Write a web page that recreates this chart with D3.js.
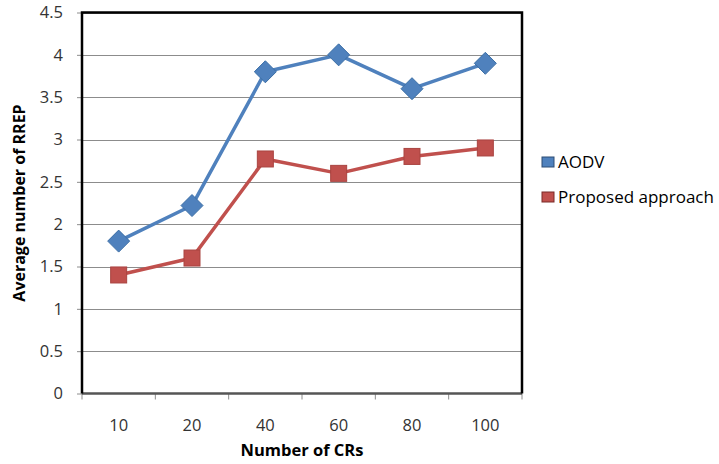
<!DOCTYPE html>
<html><head><meta charset="utf-8">
<script src="https://cdn.jsdelivr.net/npm/d3@7/dist/d3.min.js"></script>
<style>body{margin:0;background:#fff;}svg{display:block;}</style>
</head><body>
<svg id="c" width="719" height="464"></svg>
<script>
const categories = ["10","20","40","60","80","100"];
const aodv = [1.8, 2.22, 3.8, 4.0, 3.6, 3.9];
const proposed = [1.4, 1.6, 2.77, 2.6, 2.8, 2.9];
const yTicks = [0,0.5,1,1.5,2,2.5,3,3.5,4,4.5];
const seriesNames = ["AODV","Proposed approach"];

const svg = d3.select("#c");
const L=82, R=522, T=12.5, B=393.5;
const x = d3.scaleBand().domain(categories).range([L,R]);
const y = d3.scaleLinear().domain([0,4.5]).range([B,T]);
const font = "'Open Sans', sans-serif";

// gridlines
svg.append("g").selectAll("line").data(yTicks.filter(d=>d>0)).join("line")
  .attr("x1",L).attr("x2",R).attr("y1",d=>Math.round(y(d))+0.5).attr("y2",d=>Math.round(y(d))+0.5)
  .attr("stroke","#8c8c8c").attr("stroke-width",1);

// y axis
const ya = svg.append("g").attr("transform",`translate(${L},0)`)
  .call(d3.axisLeft(y).tickValues(yTicks).tickSize(5).tickPadding(14).tickFormat(d=>String(d)));
ya.select(".domain").remove();
ya.selectAll(".tick line").attr("stroke","#8c8c8c");
ya.selectAll("text").attr("font-family",font).attr("font-size",16.5).attr("fill","#333");

// x axis
const xa = svg.append("g").attr("transform",`translate(0,${B})`)
  .call(d3.axisBottom(x).tickSize(0).tickPadding(26));
xa.select(".domain").remove();
xa.selectAll("text").attr("font-family",font).attr("font-size",16.5).attr("fill","#333");
const bounds = categories.map(c=>x(c)).concat([R]);
svg.append("g").selectAll("line").data(bounds).join("line")
  .attr("x1",d=>d).attr("x2",d=>d).attr("y1",B).attr("y2",B+6)
  .attr("stroke","#8c8c8c").attr("stroke-width",1);

// frame
svg.append("line").attr("x1",L).attr("x2",R).attr("y1",B).attr("y2",B).attr("stroke","#555").attr("stroke-width",2.5);
svg.append("path").attr("d",`M${L},${B}V${T}H${R}V${B}`).attr("fill","none").attr("stroke","#000").attr("stroke-width",2.5);

const cx = c=>x(c)+x.bandwidth()/2;
const line = d3.line().x((d,i)=>cx(categories[i])).y(d=>y(d));
const colors = ["#4F81BD","#C0504D"];
const borders = ["#3b6ea5","#a94441"];

svg.append("path").datum(aodv).attr("d",line).attr("fill","none").attr("stroke",colors[0]).attr("stroke-width",3.5).attr("stroke-linejoin","round");
svg.append("path").datum(proposed).attr("d",line).attr("fill","none").attr("stroke",colors[1]).attr("stroke-width",3.5).attr("stroke-linejoin","round");

svg.append("g").selectAll("path").data(aodv).join("path")
  .attr("d",(d,i)=>{const px=cx(categories[i]),py=y(d),r=11;return `M${px},${py-r}L${px+r},${py}L${px},${py+r}L${px-r},${py}Z`;})
  .attr("fill",colors[0]).attr("stroke",borders[0]).attr("stroke-width",1);
svg.append("g").selectAll("rect").data(proposed).join("rect")
  .attr("x",(d,i)=>cx(categories[i])-8).attr("y",d=>y(d)-8).attr("width",16).attr("height",16)
  .attr("fill",colors[1]).attr("stroke",borders[1]).attr("stroke-width",1);

// axis titles
svg.append("text").attr("x",302).attr("y",456).attr("text-anchor","middle")
  .attr("font-family",font).attr("font-weight","bold").attr("font-size",16.5).attr("fill","#000").text("Number of CRs");
svg.append("text").attr("transform",`translate(25,${(T+B)/2}) rotate(-90)`).attr("text-anchor","middle")
  .attr("font-family",font).attr("font-weight","bold").attr("font-size",16).attr("fill","#000").text("Average number of RREP");

// legend
const lg = svg.append("g").selectAll("g").data(seriesNames).join("g")
  .attr("transform",(d,i)=>`translate(542,${162+i*35})`);
lg.append("rect").attr("x",0).attr("y",-5).attr("width",12).attr("height",10)
  .attr("fill",(d,i)=>colors[i]).attr("stroke",(d,i)=>i?"#7a2a28":"#2c4d75").attr("stroke-width",1);
lg.append("text").attr("x",16).attr("y",6).attr("font-family",font).attr("font-size",17).attr("fill","#000").text(d=>d);
</script>
</body></html>
